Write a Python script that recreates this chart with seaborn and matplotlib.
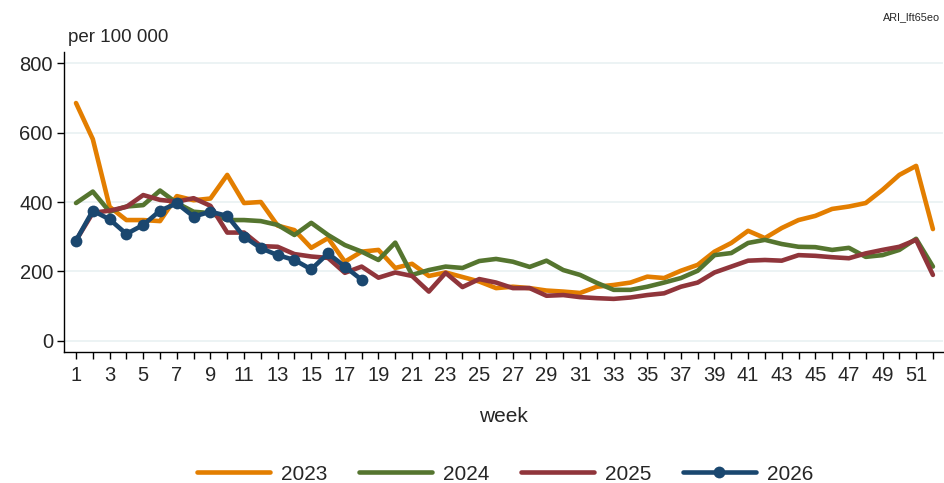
import numpy as np
import pandas as pd
import matplotlib
matplotlib.use("Agg")
import matplotlib.pyplot as plt
import seaborn as sns

weeks = list(range(1, 53))

y2023 = [685, 581, 386, 348, 348, 345, 417, 405, 410, 478,
         397, 400, 332, 319, 268, 296, 228, 257, 262, 210,
         222, 187, 197, 184, 171, 152, 156, 152, 145, 142,
         138, 156, 161, 168, 185, 181, 202, 219, 257, 282,
         317, 296, 325, 348, 360, 380, 387, 397, 435, 478,
         504, 322]

y2024 = [397, 430, 372, 387, 391, 433, 397, 372, 368, 348,
         348, 345, 334, 305, 340, 305, 276, 257, 233, 283,
         190, 204, 214, 210, 230, 236, 228, 213, 231, 204,
         190, 167, 147, 147, 156, 168, 181, 202, 247, 253,
         282, 291, 279, 271, 270, 262, 268, 242, 247, 262,
         294, 214]

y2025 = [289, 369, 375, 386, 420, 406, 401, 411, 389, 312,
         312, 273, 271, 250, 243, 239, 196, 214, 182, 197,
         187, 142, 196, 155, 178, 168, 152, 152, 130, 132,
         126, 123, 121, 125, 132, 137, 156, 168, 197, 214,
         231, 233, 231, 247, 245, 241, 238, 252, 262, 271,
         291, 190]

weeks_2026 = list(range(1, 19))
y2026 = [289, 375, 350, 308, 334, 375, 396, 358, 372, 360,
         300, 267, 247, 233, 206, 252, 214, 176]

years = ["2023", "2024", "2025", "2026"]
colors = {"2023": "#e37e00", "2024": "#55752f", "2025": "#90353b", "2026": "#1a476f"}

frames = []
for yr, wk, vals in [("2023", weeks, y2023), ("2024", weeks, y2024),
                     ("2025", weeks, y2025), ("2026", weeks_2026, y2026)]:
    frames.append(pd.DataFrame({"week": wk, "value": vals, "year": yr}))
df = pd.concat(frames, ignore_index=True)

sns.set_theme(style="white")
plt.rcParams["font.family"] = ["Liberation Sans", "DejaVu Sans"]

fig = plt.figure(figsize=(9.44, 4.83), dpi=100)
ax = fig.add_axes([64 / 944, 1 - 352 / 483, (943 - 64) / 944, (352 - 52) / 483])

for yr in years:
    sub = df[df["year"] == yr]
    sns.lineplot(data=sub, x="week", y="value", ax=ax, color=colors[yr],
                 linewidth=3.3, label=yr,
                 marker="o" if yr == "2026" else None,
                 markersize=8.5 if yr == "2026" else 0,
                 markeredgewidth=0)

ax.set_xlim(0.285, 52.6)
ax.set_ylim(-32, 832)
ax.set_yticks([0, 200, 400, 600, 800])
ax.yaxis.grid(True, color="#eaf2f3", linewidth=1.3)
ax.xaxis.grid(False)
ax.set_axisbelow(True)

ax.set_xticks(weeks)
ax.set_xticklabels([str(w) if w % 2 == 1 else "" for w in weeks])
ax.tick_params(axis="both", which="both", direction="out", length=5, width=1,
               color="black", labelsize=14.5, bottom=True, left=True)
ax.tick_params(axis="x", pad=5)
ax.tick_params(axis="y", pad=3)

for s in ["top", "right"]:
    ax.spines[s].set_visible(False)
for s in ["left", "bottom"]:
    ax.spines[s].set_color("black")
    ax.spines[s].set_linewidth(1)

ax.set_xlabel("week", fontsize=15, labelpad=16)
ax.set_ylabel("")

fig.text(68 / 944, 1 - 38 / 483, "per 100 000", fontsize=13.5, ha="left", va="center")
fig.text(940 / 944, 1 - 17 / 483, "ARI_lft65eo", fontsize=7.8, ha="right", va="center")

handles, labels = ax.get_legend_handles_labels()
if ax.legend_:
    ax.legend_.remove()
fig.legend(handles, labels, loc="center", bbox_to_anchor=(505 / 944, 1 - 474 / 483),
           ncol=4, frameon=False, fontsize=15, handlelength=3.5, columnspacing=1.5,
           handletextpad=0.55, borderpad=0.1)

fig.savefig("out.png", dpi=100)
